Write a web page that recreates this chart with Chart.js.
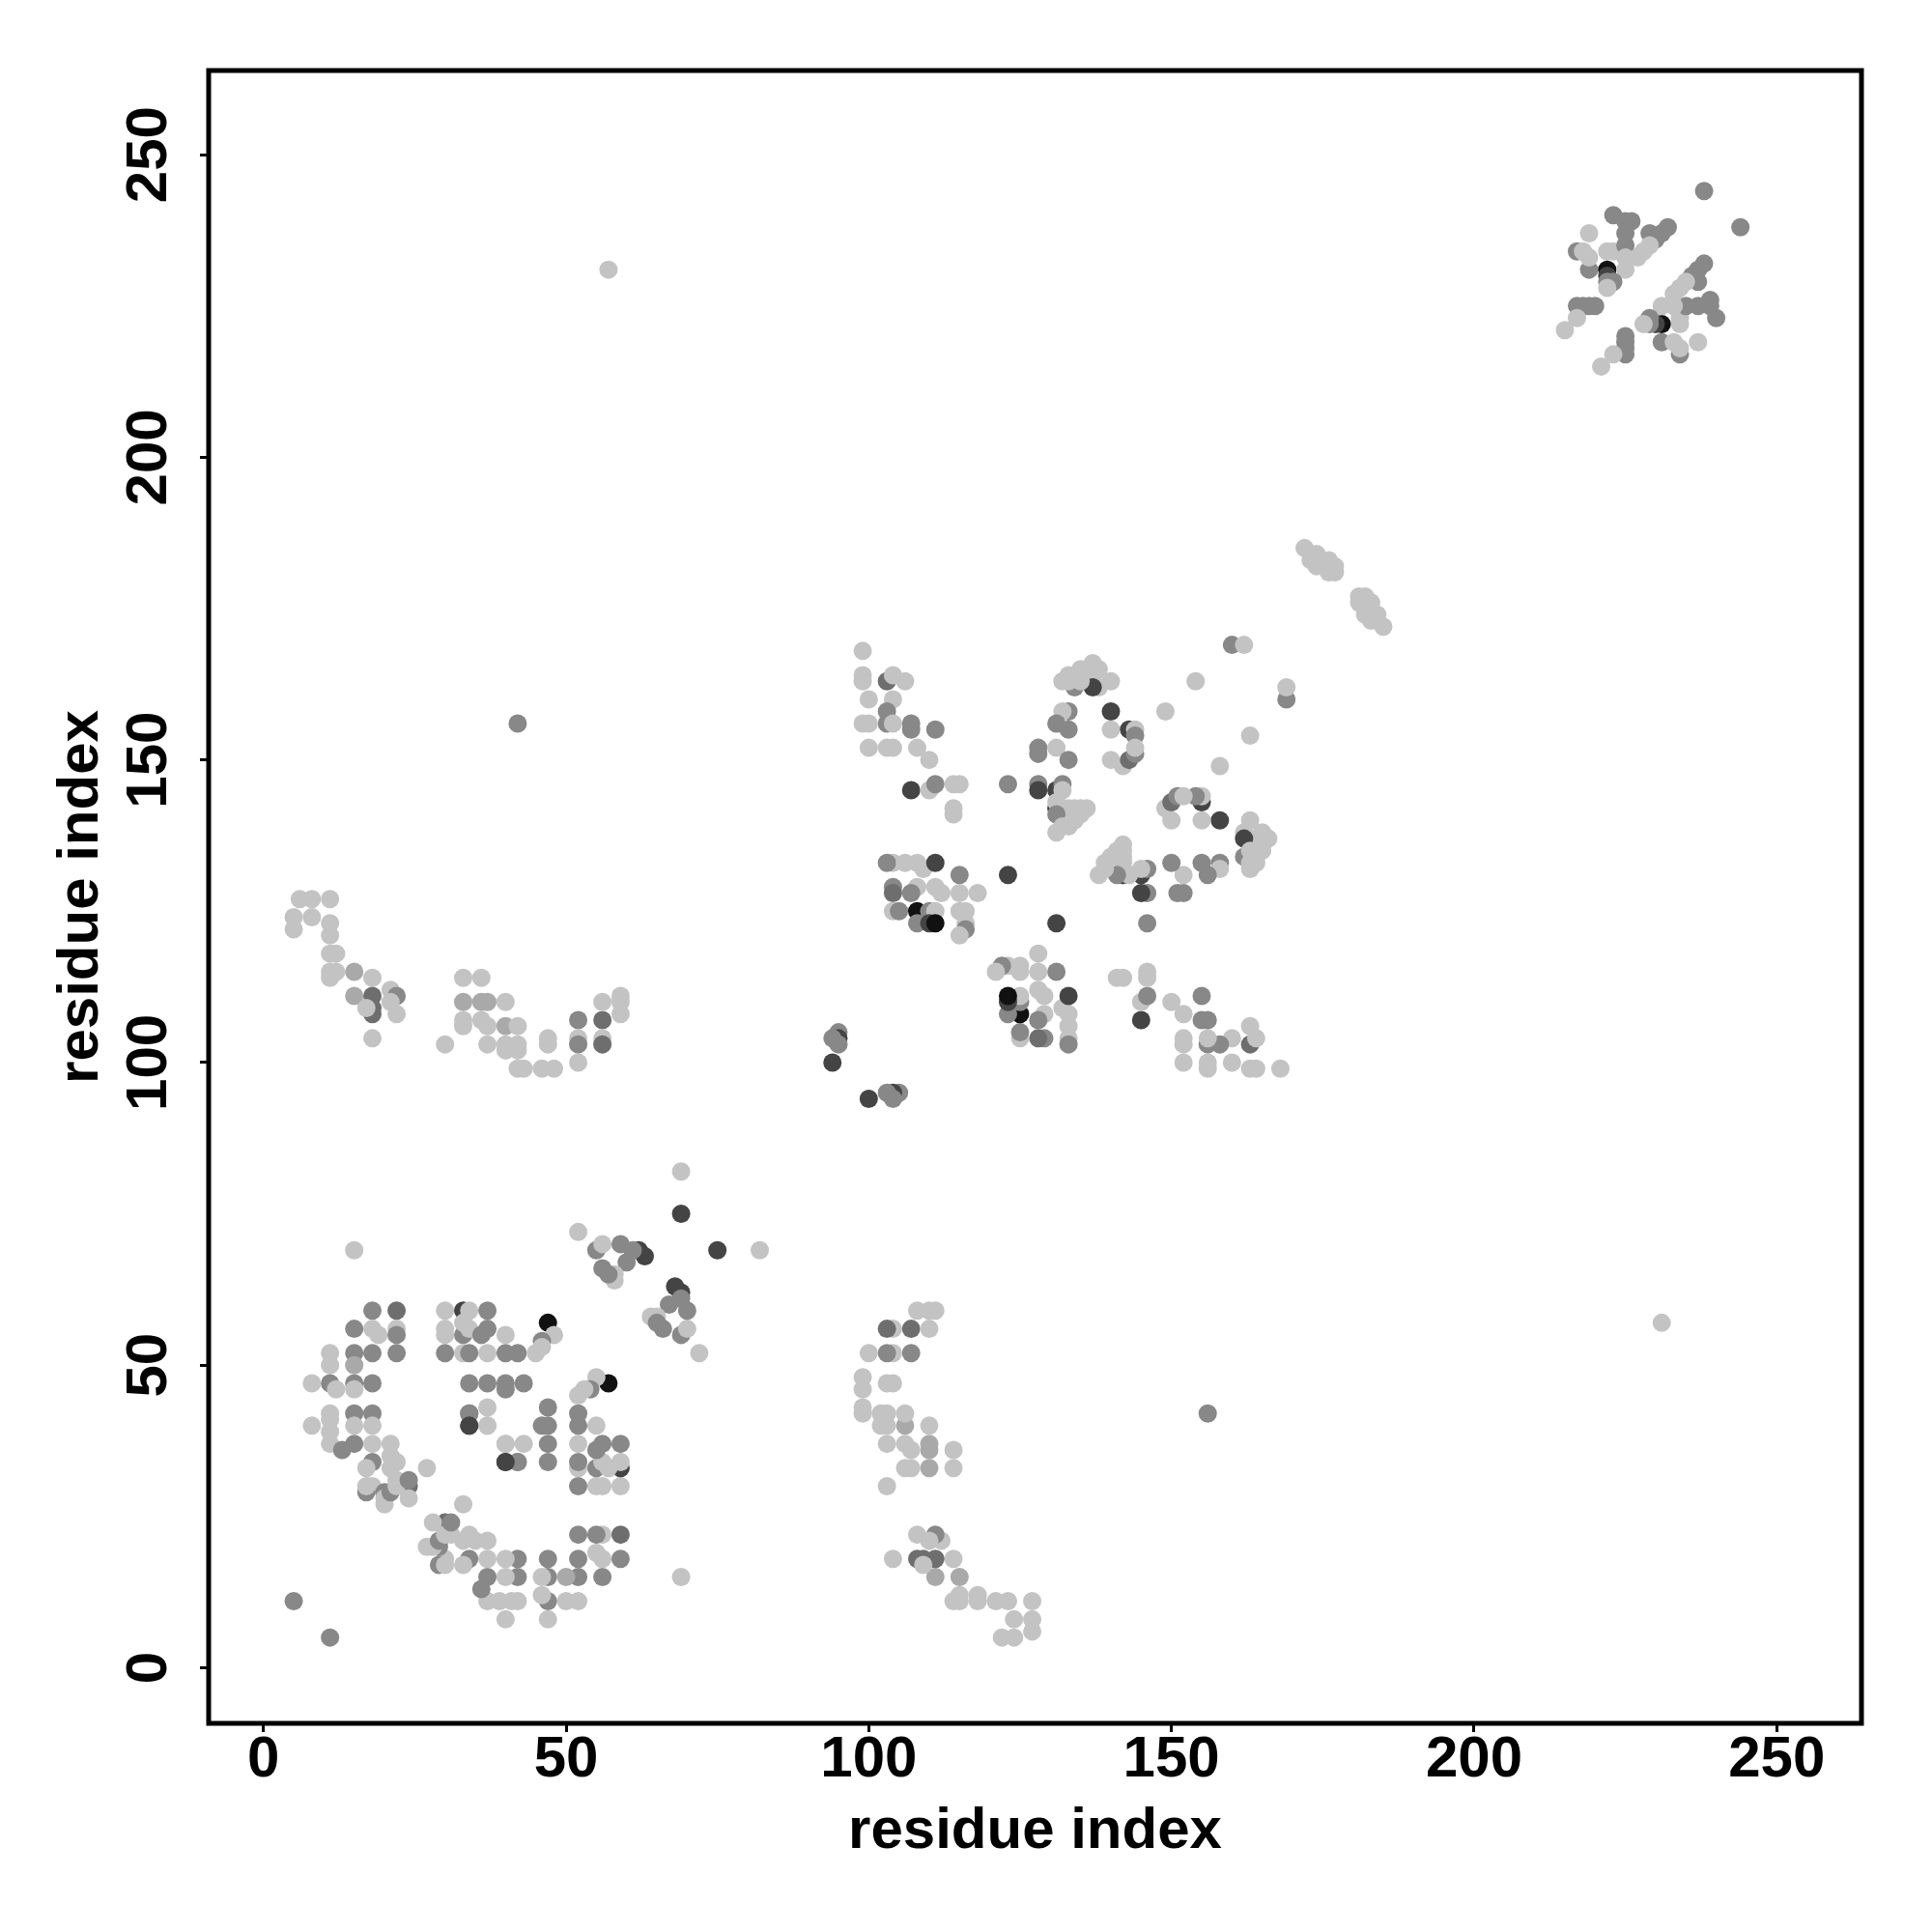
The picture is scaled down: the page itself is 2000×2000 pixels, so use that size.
<!DOCTYPE html>
<html><head><meta charset="utf-8">
<script src="https://cdn.jsdelivr.net/npm/chart.js@4/dist/chart.umd.min.js"></script>
<style>html,body{margin:0;padding:0;background:#fff}#wrap{width:2000px;height:2000px}</style>
</head><body><div id="wrap"><canvas id="c" width="2000" height="2000"></canvas></div>
<script>
// Contact map (symmetric): each contact (resI < resJ) is plotted at (i,j) and (j,i)
// level: contact strength class, 1 = weakest (light grey) ... 6 = strongest (black)
const resI = [
 5,18,22,30,33,34,37,15,18,19,22,22,30,30,33,34,37,40,
 11,15,18,22,30,33,34,37,40,42,45,11,15,
 8,11,12,15,15,18,34,37,40,40,43,34,37,34,37,
 11,11,11,11,8,15,18,15,18,13,15,18,21,18,17,22,
 18,17,20,20,23,24,27,24,40,42,40,36,33,
 20,21,22,22,24,17,21,21,
 47,48,46,46,15,52,69,69,55,56,59,62,60,56,58,63,61,58,57,
 6,8,11,5,8,11,5,11,11,12,11,12,11,15,18,15,18,18,18,17,21,22,22,21,18,
 33,36,33,36,37,40,33,33,36,37,40,42,30,37,40,42,40,42,42,43,46,48,47,47,
 52,52,52,52,56,56,56,56,59,59,59,
 94,95,95,94,95,
 104,103,108,106,109,111,115,104,104,108,107,111,112,115,118,
 104,105,108,108,110,111,110,111,115,116,116,116,115,123,
 99,99,99,103,104,106,100,104,103,103,99,100,104,107,107,111,
 100,103,104,108,110,107,110,111,114,115,114,114,
 123,128,128,131,132,132,131,131,133,134,135,131,132,131,133,134,135,136,
 133,132,131,133,128,131,133,128,
 132,133,134,135,136,137,138,136,137,138,137,134,135,133,
 140,140,140,143,144,144,140,142,143,144,144,149,154,160,162,
 172,173,174,175,176,177,174,175,176,177,173,
 238,223,225,226,225,229,230,232,231,219,217,218,222,223,225,225,227,229,228,219,
 219,222,222,225,222,223,222,217,218,219,220,217,215,
 57,42
];
const resJ = [
 11,59,59,59,59,59,59,56,56,55,56,55,56,55,55,56,56,55,
 52,52,52,52,52,52,52,52,52,52,52,50,50,
 47,47,46,47,46,47,47,47,47,46,47,42,43,40,40,
 42,41,39,37,40,42,42,40,40,36,37,37,37,34,33,34,
 30,29,29,28,30,30,33,28,37,34,34,55,57,
 27,29,30,31,31,30,33,35,
 57,55,54,53,69,72,82,75,69,70,70,69,67,66,65,68,69,64,65,
 127,127,127,124,124,123,122,121,118,118,115,115,114,115,114,111,111,109,108,109,112,111,108,110,104,
 114,114,110,110,110,110,107,106,107,106,106,106,103,103,103,103,102,102,99,99,99,99,104,103,
 107,104,103,100,107,104,103,110,111,110,108,
 100,105,104,104,103,
 133,133,133,133,132,133,131,129,128,129,128,129,128,128,128,
 125,125,125,123,125,125,123,123,125,125,123,122,121,131,
 168,164,163,163,164,163,160,160,158,156,156,156,156,156,155,155,
 152,152,152,152,150,145,145,146,146,146,142,141,
 146,146,145,145,146,145,142,143,142,142,142,141,139,138,139,140,141,142,
 158,158,156,155,152,152,150,151,
 163,164,164,165,165,166,165,163,163,162,162,162,163,163,
 163,158,155,155,155,154,150,149,150,151,152,158,163,169,169,
 185,184,184,183,183,182,182,182,181,181,183,
 244,240,239,239,237,237,236,238,237,237,234,234,234,234,235,233,233,235,234,231,
 233,231,230,231,229,229,228,225,225,225,225,223,221,
 231,156
];
const level = [
 3,3,4,1,5,1,3,3,1,1,1,3,1,1,3,1,3,1,
 1,3,3,3,3,1,3,1,3,3,1,1,2,
 1,3,1,3,1,3,3,3,3,3,3,3,1,5,1,
 1,1,1,1,1,3,3,1,1,3,3,1,1,3,1,1,
 1,3,3,1,3,4,1,1,1,3,5,3,1,
 1,3,1,1,3,1,1,1,
 6,1,3,1,1,1,1,5,3,1,3,5,3,3,1,5,3,1,3,
 1,1,1,1,1,1,1,1,1,1,1,1,1,2,1,2,4,4,4,1,1,3,1,1,1,
 1,1,2,2,2,1,1,1,1,1,2,1,1,1,1,1,1,1,1,1,1,1,1,1,
 3,1,3,1,4,1,4,1,1,1,1,
 5,3,5,3,3,
 1,3,1,1,1,5,3,3,4,1,3,1,1,1,1,
 1,3,6,3,3,1,5,6,1,1,1,3,1,5,
 1,1,1,4,1,1,1,1,3,3,1,1,1,3,3,3,
 1,1,1,1,1,5,1,3,1,1,1,1,
 3,3,5,5,3,1,5,1,1,1,1,3,1,1,1,1,1,1,
 3,1,3,3,3,1,3,3,
 1,1,1,1,1,1,1,1,1,1,5,3,1,1,
 1,5,1,5,1,3,1,1,4,3,1,1,1,3,1,
 1,1,1,1,1,1,1,1,1,1,1,
 3,3,3,3,3,3,3,3,3,1,3,1,1,1,3,1,1,1,1,3,
 1,6,5,1,3,3,1,3,3,3,3,1,1,
 1,3
];
const xTicks = [0, 50, 100, 150, 200, 250];
const yTicks = [0, 50, 100, 150, 200, 250];
const xTitle = 'residue index';
const yTitle = 'residue index';

const palette = {1:'#c3c3c3', 2:'#a9a9a9', 3:'#888888', 4:'#6e6e6e', 5:'#444444', 6:'#111111'};
const pts = [];
for (let k = 0; k < resI.length; k++) {
  pts.push({x: resI[k], y: resJ[k], lv: level[k]});
  pts.push({x: resJ[k], y: resI[k], lv: level[k]});
}

const FONT = '"Liberation Sans", Arial, Helvetica, sans-serif';
const textPlugin = {
  id: 'rtext',
  afterDraw(chart) {
    const ctx = chart.ctx, a = chart.chartArea;
    const xs = chart.scales.x, ys = chart.scales.y;
    ctx.save();
    ctx.strokeStyle = '#000'; ctx.lineWidth = 5;
    ctx.strokeRect(a.left, a.top, a.right - a.left, a.bottom - a.top);
    ctx.fillStyle = '#000';
    ctx.font = 'bold 60px ' + FONT;
    ctx.textAlign = 'center'; ctx.textBaseline = 'alphabetic';
    xTicks.forEach(v => ctx.fillText(String(v), xs.getPixelForValue(v), 1839));
    yTicks.forEach(v => {
      ctx.save(); ctx.translate(172, ys.getPixelForValue(v)); ctx.rotate(-Math.PI/2);
      ctx.fillText(String(v), 0, 0); ctx.restore();
    });
    ctx.fillText(xTitle, (a.left + a.right)/2, 1913);
    ctx.save(); ctx.translate(101, (a.top + a.bottom)/2); ctx.rotate(-Math.PI/2);
    ctx.fillText(yTitle, 0, 0); ctx.restore();
    ctx.restore();
  }
};

new Chart(document.getElementById('c'), {
  type: 'scatter',
  data: { datasets: [{
    data: pts,
    pointRadius: 9.5, pointHoverRadius: 9.5, borderWidth: 0, pointBorderWidth: 0,
    backgroundColor: c => palette[(c.raw && c.raw.lv) || 1],
    pointBackgroundColor: c => palette[(c.raw && c.raw.lv) || 1]
  }]},
  options: {
    responsive: false, animation: false, devicePixelRatio: 1,
    layout: { padding: { left: 0, top: 73, right: 73, bottom: 0 } },
    plugins: { legend: { display: false }, tooltip: { enabled: false } },
    scales: {
      x: {
        type: 'linear', min: -9.05, max: 264.0,
        afterBuildTicks: s => { s.ticks = xTicks.map(v => ({value: v})); },
        afterFit: s => { s.height = 216; },
        ticks: { display: false },
        grid: { display: true, drawOnChartArea: false, drawTicks: true, tickLength: 9, color: '#000', lineWidth: 3 },
        border: { display: false }
      },
      y: {
        type: 'linear', min: -9.18, max: 263.9,
        afterBuildTicks: s => { s.ticks = yTicks.map(v => ({value: v})); },
        afterFit: s => { s.width = 216; },
        ticks: { display: false },
        grid: { display: true, drawOnChartArea: false, drawTicks: true, tickLength: 9, color: '#000', lineWidth: 3 },
        border: { display: false }
      }
    }
  },
  plugins: [textPlugin]
});
</script></body></html>
